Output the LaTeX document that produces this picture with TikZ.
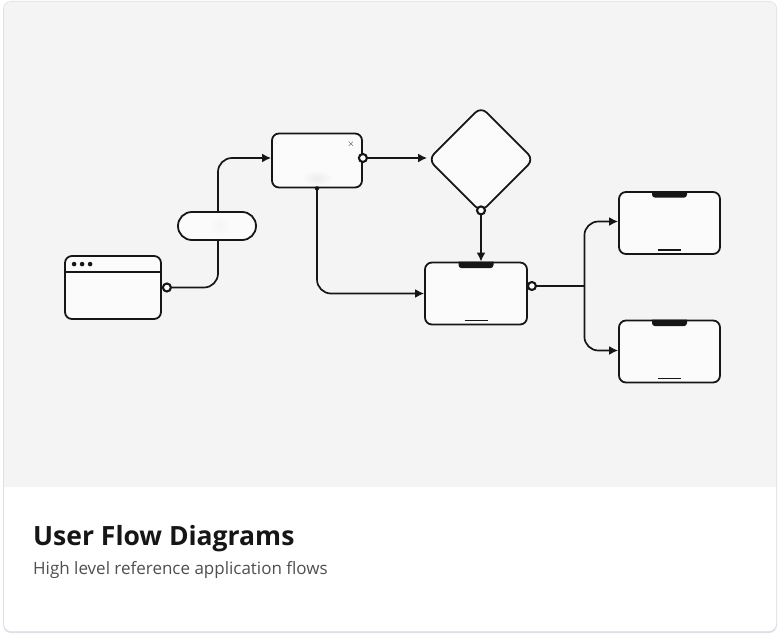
\documentclass[tikz,border=0pt]{standalone}
\usepackage{fontspec}
\newfontfamily\cardfont{Open Sans}
\usepackage{tikz}
\usetikzlibrary{arrows.meta, shapes.geometric, positioning, calc}

\definecolor{ink}{HTML}{161616}
\definecolor{canvas}{HTML}{F4F4F4}
\definecolor{paper}{HTML}{FBFBFB}
\definecolor{rim}{HTML}{DDE1E6}
\definecolor{subtext}{HTML}{4F4F4F}

\tikzset{
  screen/.style={draw=ink, line width=1.8pt, fill=paper, rounded corners=7pt, inner sep=0pt},
  flow/.style={draw=ink, line width=1.7pt, -{Latex[length=9pt,width=9pt]}},
  wire/.style={draw=ink, line width=1.7pt},
  port/.style={circle, draw=ink, fill=white, line width=2.1pt, minimum size=8pt, inner sep=0pt},
}

% notch and home bar of a phone screen
\newcommand{\phonebits}[1]{
  \fill[ink] ([xshift=-17.5pt]#1.north) [rounded corners=3pt] -- ++(0,6.5) -- ++(35,0) [sharp corners] -- ++(0,-6.5) -- cycle;
  \draw[ink, line width=1.2pt] ([xshift=-11.5pt, yshift=5pt]#1.south) -- ++(23,0);
}

\begin{document}
\begin{tikzpicture}[x=1pt, y=-1pt]
    \useasboundingbox (0,0) rectangle (779,634);

    % Card
    \fill[rim, rounded corners=8pt] (3,1) rectangle (777,633);
    \fill[white, rounded corners=7pt] (4,2) rectangle (776,631);
    \fill[canvas] (4,487) [rounded corners=7pt] -- (4,2) -- (776,2) [sharp corners] -- (776,487) -- cycle;

    % Screens
    \node[screen, minimum width=96pt, minimum height=63pt] (win) at (113,287.5) {};
    \node[screen, minimum width=90pt, minimum height=54pt] (modal) at (317,160.5) {};
    \node[screen, diamond, minimum width=106pt, minimum height=106pt, rounded corners=8pt] (dia) at (481,159.5) {};
    \node[screen, minimum width=102pt, minimum height=62pt] (ph1) at (476,293.5) {};
    \node[screen, minimum width=101pt, minimum height=62pt] (ph2) at (669.5,223) {};
    \node[screen, minimum width=101pt, minimum height=62pt] (ph3) at (669.5,351.5) {};

    % Browser window details
    \draw[ink, line width=1.4pt] ([yshift=-17pt]win.north west) -- ([yshift=-17pt]win.north east);
    \foreach \dx in {10,18,26}
        \fill[ink] ([xshift=\dx pt, yshift=-9pt]win.north west) circle (2.3pt);

    % Modal details
    \shade[inner color=black!7, outer color=paper] (317,178) ellipse (16 and 8);
    \node[ink, inner sep=0pt, font=\small] (close) at ([xshift=-12pt, yshift=-12pt]modal.north east) {$\times$};

    % Phone details
    \phonebits{ph1}
    \phonebits{ph2}
    \phonebits{ph3}

    % Ports
    \coordinate (winout) at ([xshift=5pt]win.east);
    \coordinate (modalout) at ([yshift=2.5pt]modal.east);
    \coordinate (diaout) at ([yshift=3pt]dia.south);
    \coordinate (ph1out) at ([xshift=4pt, yshift=7.5pt]ph1.east);
    \coordinate (fork) at ([xshift=52.5pt]ph1out);

    % Connectors
    \draw[flow, rounded corners=14pt] (winout) -| (218,226) |- (modalout -| modal.west);
    \draw[flow, rounded corners=14pt] (modal.south) |- (ph1.west);
    \draw[flow] (modalout) -- (modalout -| dia.west);
    \draw[flow] (diaout) -- (diaout |- ph1.north);
    \draw[wire] (ph1out) -- (fork);
    \draw[flow, rounded corners=14pt] (fork) |- ([yshift=1.5pt]ph2.west);
    \draw[flow, rounded corners=14pt] (fork) |- ([yshift=1pt]ph3.west);

    % Pill over the first connector
    \node[screen, minimum width=78pt, minimum height=28pt, rounded corners=13.9pt] (pill) at (217,226) {};
    \shade[inner color=black!4, outer color=paper] (219,226) ellipse (10 and 11);

    % Port markers
    \node[port] at (winout) {};
    \node[port] at (modalout) {};
    \node[port] at (diaout) {};
    \node[port] at (ph1out) {};
    \fill[ink] (modal.south) circle (2.2pt);

    % Caption
    \node[anchor=base west, inner sep=0pt, text=ink, font=\cardfont\bfseries\fontsize{26.5}{30}\selectfont] (title) at (33,545) {User Flow Diagrams};
    \node[anchor=base west, inner sep=0pt, text=subtext, font=\cardfont\fontsize{17}{20}\selectfont] (subtitle) at (33,574) {High level reference application flows};
\end{tikzpicture}
\end{document}
